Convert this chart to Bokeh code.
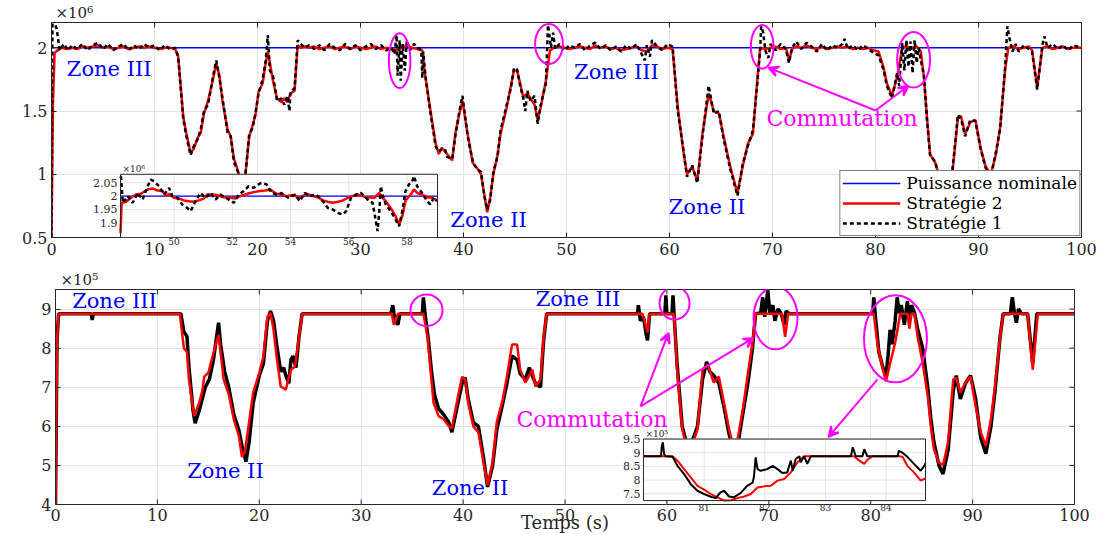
import math
from bokeh.plotting import figure
from bokeh.layouts import column, row
from bokeh.models import (Range1d, Legend, LegendItem, Arrow, VeeHead, Title,
                          FixedTicker, LinearAxis, Grid)
from bokeh.core.properties import value
from bokeh.embed import file_html
from bokeh.resources import INLINE

SERIF = "DejaVu Serif"
AX = "#262626"
GRID = "#e4e4e4"
MAG = "#FF00FF"
BLUE = "#0000FF"
RED = "#FF0000"

# ---------------- DATA: top panel (x 1e6) ----------------
top_strat2 = [(0, 0.5), (0.15, 1.6), (0.3, 1.96), (0.6, 1.98), (1.0, 2.0), (1.5, 1.99), (2.0, 2.0), (2.5, 1.99),
    (3.0, 2.01), (3.5, 2.0), (4.0, 2.01), (4.5, 2.02), (5.0, 2.0), (5.5, 2.01), (6.0, 1.99), (6.5, 2.0),
    (7.0, 2.01), (7.5, 1.99), (8.0, 2.0), (8.5, 2.01), (9.0, 2.0), (9.5, 2.01), (10.0, 2.0), (10.5, 1.99),
    (11.0, 2.0), (11.5, 2.0), (12.0, 1.99), (12.3, 1.93), (12.8, 1.45), (13.1, 1.32), (13.5, 1.17), (13.8, 1.2),
    (14.2, 1.29), (14.5, 1.33), (14.8, 1.48), (15.2, 1.58), (15.7, 1.76), (16.0, 1.88), (16.3, 1.78), (16.6, 1.58),
    (17.1, 1.35), (17.4, 1.3), (17.7, 1.13), (18.2, 1.0), (18.5, 0.93), (18.8, 0.98), (19.2, 1.3), (19.5, 1.38),
    (19.8, 1.47), (20.1, 1.65), (20.5, 1.72), (20.8, 1.88), (21.0, 1.97), (21.2, 1.88), (21.5, 1.74), (21.9, 1.6),
    (22.3, 1.57), (22.6, 1.6), (22.9, 1.57), (23.2, 1.64), (23.6, 1.66), (23.9, 2.02), (24.2, 2.0), (24.6, 2.01),
    (25.0, 2.0), (25.5, 2.01), (26.0, 1.99), (26.5, 2.0), (27.0, 2.01), (27.5, 1.99), (28.0, 2.0), (28.5, 2.01),
    (29.0, 1.99), (29.5, 2.01), (30.0, 2.0), (30.5, 1.99), (31.0, 2.0), (31.5, 2.01), (32.0, 1.99), (32.5, 2.0),
    (33.0, 1.99), (33.5, 1.98), (34.0, 2.0), (34.5, 2.02), (35.0, 2.0), (35.5, 1.99), (36.0, 1.98), (36.3, 1.77),
    (36.8, 1.5), (37.3, 1.24), (37.6, 1.16), (37.9, 1.21), (38.4, 1.16), (38.9, 1.11), (39.2, 1.32), (39.6, 1.48),
    (39.9, 1.58), (40.4, 1.32), (40.9, 1.09), (41.3, 1.05), (41.7, 1.0), (42.0, 0.85), (42.3, 0.70), (42.6, 0.82),
    (42.9, 1.0), (43.3, 1.15), (43.6, 1.32), (44.2, 1.53), (44.6, 1.7), (44.9, 1.82), (45.2, 1.82), (45.5, 1.72),
    (45.8, 1.61), (46.2, 1.64), (46.5, 1.6), (46.9, 1.55), (47.2, 1.43), (47.5, 1.53), (48.0, 1.74), (48.4, 1.98),
    (48.8, 2.0), (49.3, 2.01), (49.8, 2.0), (50.3, 1.99), (50.8, 2.0), (51.3, 2.01), (51.8, 2.0), (52.3, 1.99),
    (52.8, 2.02), (53.3, 2.0), (53.8, 2.01), (54.3, 1.99), (54.8, 2.0), (55.3, 1.98), (55.8, 1.99), (56.3, 2.0),
    (56.8, 2.01), (57.3, 1.98), (57.8, 1.97), (58.3, 2.02), (58.8, 2.01), (59.3, 1.99), (59.8, 2.0), (60.3, 1.99),
    (60.8, 1.53), (61.3, 1.21), (61.7, 1.0), (62.2, 1.06), (62.7, 0.95), (63.2, 1.32), (63.8, 1.64), (64.3, 1.5),
    (64.8, 1.48), (65.2, 1.32), (65.9, 1.06), (66.6, 0.85), (67.1, 1.06), (67.6, 1.24), (68.1, 1.32), (68.5, 1.72),
    (68.8, 2.0), (69.3, 1.99), (69.8, 2.0), (70.3, 2.01), (70.8, 1.99), (71.3, 2.0), (71.6, 1.9), (71.9, 1.99),
    (72.3, 2.01), (72.8, 2.0), (73.3, 2.02), (73.8, 2.0), (74.3, 1.99), (74.8, 2.01), (75.3, 1.99), (75.8, 2.0),
    (76.3, 2.01), (76.8, 2.0), (77.3, 2.01), (77.8, 1.99), (78.3, 2.0), (78.8, 1.99), (79.3, 2.0), (79.8, 1.98),
    (80.3, 1.97), (80.8, 1.84), (81.1, 1.72), (81.6, 1.62), (82.1, 1.77), (82.6, 2.0), (83.0, 2.01), (83.5, 2.0),
    (84.0, 2.01), (84.4, 1.97), (84.7, 1.77), (85.0, 1.45), (85.3, 1.16), (85.8, 1.09), (86.3, 0.95), (86.8, 0.83),
    (87.3, 0.88), (87.7, 1.2), (88.0, 1.45), (88.3, 1.46), (88.7, 1.32), (89.2, 1.41), (89.7, 1.43), (90.2, 1.21),
    (90.7, 1.06), (91.2, 1.0), (91.7, 1.16), (92.1, 1.37), (92.6, 1.84), (92.9, 2.0), (93.4, 2.01), (93.9, 1.99),
    (94.4, 2.0), (94.9, 2.01), (95.2, 1.98), (95.7, 1.69), (96.2, 2.0), (96.7, 2.01), (97.2, 1.99), (97.7, 2.0),
    (98.2, 2.01), (98.7, 1.99), (99.2, 2.0), (100.0, 2.0)]

top_strat1 = [(0, 0.5), (0.1, 2.25), (0.5, 2.15), (0.8, 1.98), (1.2, 2.03), (1.6, 1.98), (2.0, 2.02), (2.5, 1.99),
    (3.0, 2.03), (3.5, 1.98), (4.0, 2.02), (4.5, 2.04), (5.0, 1.99), (5.5, 2.03), (6.0, 1.98), (6.5, 2.01),
    (7.0, 2.03), (7.5, 1.98), (8.0, 2.02), (8.5, 1.99), (9.0, 2.03), (9.5, 2.0), (10.0, 2.02), (10.5, 1.98),
    (11.0, 2.02), (11.5, 1.99), (12.0, 2.0), (12.3, 1.93), (12.8, 1.43), (13.1, 1.3), (13.5, 1.15), (13.8, 1.22),
    (14.2, 1.28), (14.5, 1.36), (14.8, 1.5), (15.2, 1.55), (15.7, 1.78), (16.0, 1.9), (16.3, 1.76), (16.6, 1.6),
    (17.1, 1.33), (17.4, 1.3), (17.7, 1.1), (18.2, 1.0), (18.5, 0.92), (18.8, 0.97), (19.2, 1.32), (19.5, 1.36),
    (19.8, 1.48), (20.1, 1.64), (20.5, 1.75), (20.8, 1.9), (21.0, 2.1), (21.2, 1.82), (21.5, 1.78), (21.9, 1.58),
    (22.3, 1.6), (22.6, 1.55), (22.9, 1.62), (23.1, 1.5), (23.2, 1.65), (23.6, 1.68), (23.9, 2.06), (24.2, 2.03),
    (24.6, 2.0), (25.0, 2.02), (25.5, 1.99), (26.0, 2.02), (26.5, 1.98), (27.0, 2.03), (27.5, 2.0), (28.0, 1.98),
    (28.5, 2.03), (29.0, 1.99), (29.5, 2.02), (30.0, 1.98), (30.5, 2.01), (31.0, 2.03), (31.5, 1.99), (32.0, 2.02),
    (32.5, 1.98), (33.0, 2.0), (33.3, 1.95), (33.5, 2.1), (33.6, 1.78), (33.8, 2.06), (33.9, 1.74), (34.1, 2.03),
    (34.3, 1.82), (34.5, 2.06), (34.8, 1.98), (35.2, 2.03), (35.6, 2.0), (35.9, 1.98), (36.0, 1.76), (36.1, 1.97),
    (36.3, 1.78), (36.8, 1.48), (37.3, 1.22), (37.6, 1.18), (37.9, 1.2), (38.2, 1.2), (38.4, 1.14), (38.9, 1.12),
    (39.2, 1.3), (39.6, 1.5), (39.9, 1.62), (40.4, 1.3), (40.9, 1.1), (41.3, 1.04), (41.7, 1.02), (42.0, 0.84),
    (42.3, 0.72), (42.6, 0.8), (42.9, 1.02), (43.3, 1.14), (43.6, 1.35), (44.2, 1.55), (44.6, 1.68), (44.9, 1.84),
    (45.2, 1.83), (45.5, 1.7), (45.8, 1.6), (46.0, 1.5), (46.2, 1.66), (46.5, 1.58), (46.9, 1.62), (47.2, 1.4),
    (47.5, 1.55), (48.0, 1.72), (48.2, 2.18), (48.5, 2.0), (48.7, 2.12), (48.9, 1.99), (49.3, 2.03), (49.8, 1.98),
    (50.3, 2.02), (50.8, 2.0), (51.3, 2.03), (51.8, 1.98), (52.3, 2.02), (52.8, 2.04), (53.3, 1.99), (53.8, 2.02),
    (54.3, 1.98), (54.8, 2.01), (55.3, 1.97), (55.8, 2.02), (56.3, 1.99), (56.8, 2.03), (57.3, 1.95), (57.6, 1.9),
    (57.8, 2.02), (58.1, 1.93), (58.3, 2.06), (58.8, 2.01), (59.3, 1.98), (59.8, 2.03), (60.3, 2.01), (60.8, 1.5),
    (61.3, 1.22), (61.7, 0.98), (62.2, 1.07), (62.7, 0.93), (63.2, 1.3), (63.8, 1.7), (64.3, 1.48), (64.8, 1.5),
    (65.2, 1.3), (65.9, 1.04), (66.6, 0.83), (67.1, 1.08), (67.6, 1.22), (68.1, 1.35), (68.5, 1.7), (68.8, 1.98),
    (68.9, 2.17), (69.1, 2.12), (69.3, 1.98), (69.6, 1.92), (69.8, 2.03), (70.3, 1.98), (70.8, 2.03), (71.3, 1.99),
    (71.6, 1.88), (71.9, 2.0), (72.3, 2.05), (72.8, 1.99), (73.3, 2.04), (73.8, 2.01), (74.3, 1.97), (74.8, 2.03),
    (75.3, 1.98), (75.8, 2.02), (76.3, 2.0), (76.8, 2.03), (77.0, 2.07), (77.3, 1.99), (77.8, 2.02), (78.3, 1.98),
    (78.8, 2.02), (79.3, 1.99), (79.8, 1.96), (80.3, 1.94), (80.8, 1.82), (81.1, 1.7), (81.6, 1.6), (82.1, 1.8),
    (82.3, 1.7), (82.6, 2.04), (82.8, 1.82), (83.0, 2.06), (83.2, 1.85), (83.4, 2.05), (83.6, 1.8), (83.8, 2.06),
    (84.0, 1.88), (84.2, 2.0), (84.4, 1.9), (84.7, 1.78), (85.0, 1.43), (85.3, 1.15), (85.8, 1.1), (86.3, 0.93),
    (86.8, 0.82), (87.3, 0.9), (87.7, 1.22), (88.0, 1.47), (88.3, 1.44), (88.7, 1.3), (89.2, 1.43), (89.7, 1.42),
    (90.2, 1.2), (90.7, 1.05), (91.2, 0.98), (91.7, 1.18), (92.1, 1.36), (92.6, 1.86), (92.8, 2.17), (93.0, 2.08),
    (93.3, 1.97), (93.6, 2.03), (93.9, 1.97), (94.4, 2.02), (94.9, 1.99), (95.2, 1.97), (95.7, 1.67), (96.2, 2.02),
    (96.4, 2.09), (96.7, 2.0), (97.2, 2.03), (97.7, 1.99), (98.2, 2.02), (98.7, 1.98), (99.2, 2.02), (100.0, 2.0)]

nominal_t = [0, 100]
nominal_power = [2.0, 2.0]

top_inset_strat2 = [(48.16, 1.862), (48.2, 1.975), (48.35, 1.979), (48.52, 1.994), (48.69, 2.006), (48.86, 2.009),
    (49.09, 2.025), (49.26, 2.029), (49.43, 2.021), (49.6, 2.019), (49.72, 2.0), (49.83, 2.009), (50.0, 1.994),
    (50.17, 1.991), (50.34, 1.984), (50.51, 1.981), (50.68, 1.979), (50.85, 1.984), (51.02, 1.991), (51.14, 2.006),
    (51.31, 2.006), (51.48, 2.004), (51.7, 1.996), (51.93, 1.994), (52.1, 1.991), (52.27, 2.0), (52.44, 2.006),
    (52.61, 2.012), (52.78, 2.016), (52.95, 2.019), (53.13, 2.021), (53.3, 2.025), (53.41, 2.016), (53.52, 2.009),
    (53.69, 2.006), (53.86, 2.0), (54.09, 2.004), (54.32, 1.994), (54.55, 2.009), (54.77, 2.0), (54.94, 1.996),
    (55.11, 1.984), (55.28, 1.979), (55.45, 1.975), (55.63, 1.979), (55.8, 1.984), (55.97, 1.994), (56.14, 2.0),
    (56.31, 2.006), (56.48, 2.0), (56.59, 1.994), (56.7, 1.996), (56.88, 1.994), (57.05, 2.012), (57.16, 1.994),
    (57.27, 1.981), (57.44, 1.956), (57.61, 1.925), (57.73, 1.894), (57.84, 1.925), (57.95, 1.984), (58.13, 2.006),
    (58.24, 2.025), (58.35, 2.012), (58.52, 2.006), (58.69, 1.996), (58.86, 1.994), (59.03, 1.984)]

top_inset_strat1 = [(48.16, 2.075), (48.18, 2.069), (48.24, 1.975), (48.41, 2.0), (48.58, 1.975), (48.75, 2.012),
    (48.92, 1.987), (49.09, 2.037), (49.2, 2.062), (49.31, 2.056), (49.49, 2.037), (49.66, 2.006), (49.83, 2.031),
    (49.94, 2.0), (50.11, 1.994), (50.28, 1.969), (50.45, 1.956), (50.57, 1.944), (50.74, 1.981), (50.91, 2.012),
    (51.08, 1.994), (51.25, 2.012), (51.42, 1.987), (51.59, 2.006), (51.82, 1.991), (52.05, 1.975), (52.22, 2.006),
    (52.39, 2.019), (52.56, 2.037), (52.73, 2.031), (52.9, 2.044), (53.01, 2.05), (53.18, 2.044), (53.35, 2.012),
    (53.52, 2.006), (53.69, 2.012), (53.92, 1.994), (54.15, 2.006), (54.32, 1.981), (54.49, 2.012), (54.66, 2.0),
    (54.89, 2.006), (55.11, 1.981), (55.28, 1.956), (55.45, 1.95), (55.63, 1.937), (55.8, 1.931), (55.91, 1.944),
    (56.08, 1.994), (56.25, 2.006), (56.42, 2.012), (56.59, 1.994), (56.7, 1.981), (56.82, 1.975), (56.99, 1.869),
    (57.05, 1.944), (57.1, 2.037), (57.16, 2.006), (57.27, 1.969), (57.44, 1.944), (57.61, 1.912), (57.73, 1.887),
    (57.84, 1.944), (57.95, 2.019), (58.07, 2.044), (58.18, 2.056), (58.24, 2.075), (58.35, 2.037), (58.52, 2.012),
    (58.69, 1.981), (58.8, 1.969), (58.92, 1.994), (59.03, 1.981)]

# ---------------- DATA: bottom panel (x 1e5) ----------------
bot_strat2 = [(0, 4.0), (0.15, 8.2), (0.3, 8.88), (12.2, 8.88), (12.6, 8.0), (12.9, 7.9), (13.1, 7.2), (13.6, 6.26),
    (14.1, 6.6), (14.4, 6.9), (14.6, 7.27), (15.0, 7.37), (15.5, 7.88), (16.0, 8.34), (16.5, 7.2), (17.0, 6.82),
    (17.5, 6.18), (18.0, 5.75), (18.3, 5.22), (18.6, 5.37), (18.9, 5.93), (19.4, 6.87), (20.0, 7.37), (20.4, 7.78),
    (20.8, 8.8), (21.1, 8.9), (21.4, 8.47), (21.7, 7.78), (22.1, 7.02), (22.6, 6.94), (23.1, 7.45), (23.5, 7.53),
    (23.9, 8.29), (24.2, 8.88), (33.0, 8.88), (33.2, 8.6), (33.5, 8.8), (33.6, 8.88), (36.1, 8.88), (36.5, 8.3),
    (36.8, 7.45), (37.1, 6.6), (37.6, 6.26), (38.1, 6.18), (38.6, 6.0), (38.9, 5.95), (39.5, 6.77), (39.9, 7.27),
    (40.2, 7.2), (40.5, 6.6), (41.0, 6.0), (41.5, 5.85), (42.0, 5.08), (42.4, 4.5), (42.9, 5.08), (43.3, 6.1),
    (43.9, 6.69), (44.3, 7.27), (44.8, 8.09), (45.3, 8.09), (45.6, 7.45), (46.1, 7.12), (46.5, 7.3), (46.8, 7.45),
    (47.1, 7.02), (47.6, 7.2), (47.9, 8.29), (48.2, 8.88), (57.6, 8.88), (57.9, 8.6), (58.1, 8.4), (58.3, 8.88),
    (60.7, 8.88), (61.0, 7.45), (61.5, 5.93), (62.0, 5.4), (62.6, 5.6), (63.0, 5.93), (63.5, 7.45), (64.0, 7.58),
    (64.6, 7.12), (65.1, 7.27), (65.6, 6.6), (66.1, 5.93), (66.6, 5.4), (67.0, 5.75), (67.5, 6.51), (68.0, 7.45),
    (68.4, 8.14), (68.7, 8.88), (71.3, 8.88), (71.6, 8.29), (71.9, 8.88), (80.3, 8.88), (80.7, 8.04), (81.2, 7.45),
    (81.5, 7.15), (81.9, 7.6), (82.4, 8.14), (82.9, 8.88), (83.6, 8.88), (83.8, 8.5), (84.0, 8.88), (84.3, 8.88),
    (84.6, 8.29), (85.1, 7.63), (85.6, 6.77), (85.9, 6.0), (86.2, 5.42), (86.7, 5.08), (87.1, 5.0), (87.6, 5.6),
    (88.1, 7.2), (88.4, 7.24), (88.8, 6.87), (89.3, 7.12), (89.8, 7.27), (90.3, 6.51), (90.8, 5.85), (91.3, 5.5),
    (91.8, 6.18), (92.2, 7.02), (92.7, 8.29), (93.0, 8.88), (95.4, 8.88), (95.9, 7.45), (96.4, 8.88), (100.0, 8.88)]

bot_strat1 = [(0, 4.0), (0.15, 8.2), (0.3, 8.88), (3.5, 8.88), (3.6, 8.72), (3.7, 8.88), (12.3, 8.88), (12.6, 8.42),
    (12.9, 8.3), (13.1, 7.5), (13.5, 6.4), (13.7, 6.08), (14.1, 6.4), (14.4, 6.7), (14.7, 7.0), (15.1, 7.2),
    (15.5, 7.7), (16.0, 8.65), (16.2, 8.1), (16.6, 7.4), (17.0, 7.0), (17.5, 6.3), (18.0, 5.9), (18.3, 5.5),
    (18.7, 5.1), (19.0, 5.6), (19.4, 6.6), (20.0, 7.3), (20.4, 7.6), (20.8, 8.7), (21.1, 8.95), (21.4, 8.7),
    (21.7, 8.1), (22.1, 7.4), (22.4, 7.5), (22.6, 7.3), (22.9, 7.1), (23.1, 7.7), (23.3, 7.8), (23.6, 7.5),
    (23.9, 8.3), (24.2, 8.88), (32.9, 8.88), (33.1, 9.1), (33.3, 8.7), (33.6, 8.6), (33.8, 8.88), (36.0, 8.88),
    (36.1, 9.3), (36.3, 8.8), (36.6, 8.2), (36.9, 7.4), (37.2, 6.8), (37.6, 6.45), (38.1, 6.3), (38.6, 6.1),
    (38.9, 5.85), (39.5, 6.6), (39.9, 7.1), (40.2, 7.25), (40.5, 6.7), (41.0, 6.1), (41.5, 6.0), (42.0, 5.2),
    (42.4, 4.45), (42.9, 5.0), (43.3, 5.9), (43.9, 6.6), (44.3, 7.1), (44.8, 7.8), (45.3, 7.7), (45.6, 7.35),
    (46.1, 7.2), (46.5, 7.5), (46.8, 7.3), (47.1, 7.1), (47.6, 7.0), (47.9, 8.2), (48.2, 8.88), (57.1, 8.88),
    (57.2, 9.1), (57.4, 8.7), (57.7, 8.8), (58.0, 8.3), (58.1, 8.2), (58.3, 8.88), (59.8, 8.88), (59.9, 9.35),
    (60.0, 8.88), (60.5, 8.88), (60.6, 9.35), (60.7, 8.88), (61.0, 7.6), (61.5, 6.0), (62.0, 5.5), (62.6, 5.7),
    (63.0, 6.0), (63.5, 7.2), (63.9, 7.65), (64.2, 7.4), (64.6, 7.3), (65.1, 7.1), (65.6, 6.5), (66.1, 5.8),
    (66.6, 5.3), (67.0, 5.6), (67.5, 6.4), (68.0, 7.2), (68.4, 8.0), (68.7, 8.88), (69.2, 8.9), (69.4, 9.3),
    (69.6, 8.8), (69.9, 9.48), (70.1, 8.9), (70.4, 9.1), (70.6, 8.7), (70.9, 9.0), (71.2, 8.9), (71.5, 8.6),
    (71.7, 8.95), (72.0, 8.88), (80.2, 8.88), (80.3, 9.3), (80.5, 8.7), (80.8, 7.9), (81.2, 7.5), (81.5, 7.3),
    (81.7, 7.8), (81.9, 8.47), (82.1, 8.1), (82.4, 8.7), (82.6, 9.3), (82.8, 8.9), (83.0, 9.1), (83.3, 8.6),
    (83.6, 9.2), (83.8, 8.7), (84.0, 9.1), (84.3, 8.9), (84.6, 8.5), (85.1, 8.0), (85.6, 7.0), (85.9, 6.2),
    (86.2, 5.6), (86.7, 5.0), (87.1, 4.78), (87.6, 5.4), (88.1, 6.9), (88.4, 7.3), (88.8, 6.7), (89.3, 7.1),
    (89.8, 7.3), (90.3, 6.7), (90.8, 5.7), (91.3, 5.3), (91.8, 6.0), (92.2, 6.9), (92.7, 8.3), (93.0, 8.88),
    (93.7, 8.88), (93.9, 9.3), (94.1, 8.9), (94.3, 8.65), (94.5, 9.0), (94.8, 8.88), (95.4, 8.88), (95.9, 7.6),
    (96.3, 8.88), (100.0, 8.88)]

bot_inset_strat1 = [(80.0, 8.87), (80.29, 8.87), (80.3, 9.2), (80.32, 9.38), (80.34, 8.95), (80.37, 8.87),
    (80.48, 8.85), (80.56, 8.52), (80.67, 8.22), (80.78, 7.85), (80.89, 7.61), (81.0, 7.49), (81.11, 7.39),
    (81.19, 7.34), (81.27, 7.55), (81.33, 7.61), (81.41, 7.40), (81.49, 7.37), (81.60, 7.52), (81.71, 7.79),
    (81.80, 7.91), (81.82, 8.10), (81.85, 8.83), (81.88, 8.40), (81.93, 8.34), (82.04, 8.40), (82.13, 8.52),
    (82.21, 8.40), (82.29, 8.26), (82.37, 8.28), (82.43, 8.71), (82.46, 8.34), (82.51, 8.77), (82.57, 8.87),
    (82.59, 8.65), (82.65, 8.87), (82.70, 8.59), (82.76, 8.87), (83.42, 8.87), (83.45, 9.2), (83.50, 8.87),
    (83.61, 8.87), (83.64, 9.13), (83.69, 8.87), (84.19, 8.87), (84.21, 9.07), (84.27, 9.0), (84.35, 8.85),
    (84.46, 8.59), (84.57, 8.34), (84.63, 8.52), (84.65, 8.62)]

bot_inset_strat2 = [(80.0, 8.87), (80.48, 8.87), (80.56, 8.71), (80.67, 8.40), (80.78, 8.10), (80.89, 7.79),
    (81.0, 7.65), (81.11, 7.49), (81.22, 7.37), (81.33, 7.25), (81.44, 7.26), (81.55, 7.34), (81.66, 7.40),
    (81.77, 7.49), (81.88, 7.73), (81.99, 7.77), (82.10, 7.79), (82.21, 7.98), (82.32, 8.04), (82.43, 8.28),
    (82.54, 8.65), (82.65, 8.87), (83.47, 8.87), (83.56, 8.71), (83.64, 8.59), (83.69, 8.74), (83.78, 8.87),
    (84.21, 8.87), (84.27, 8.85), (84.35, 8.52), (84.46, 8.28), (84.57, 7.98), (84.65, 8.06)]

# ticks
main_x_ticks = [0, 10, 20, 30, 40, 50, 60, 70, 80, 90, 100]
top_y_ticks = [0.5, 1.0, 1.5, 2.0]
top_y_labels = ["0.5", "1", "1.5", "2"]
bot_y_ticks = [4, 5, 6, 7, 8, 9]
top_inset_x_ticks = [50, 52, 54, 56, 58]
top_inset_y_ticks = [1.9, 1.95, 2.0, 2.05]
top_inset_y_labels = ["1.9", "1.95", "2", "2.05"]
bot_inset_x_ticks = [81, 82, 83, 84]
bot_inset_y_ticks = [7.5, 8.0, 8.5, 9.0, 9.5]
bot_inset_y_labels = ["7.5", "8", "8.5", "9", "9.5"]

# annotations (positions)
top_zone_x = [5.6, 54.85, 42.43, 63.64]
top_zone_y = [1.835, 1.81, 0.638, 0.74]
top_zone_text = ["Zone III", "Zone III", "Zone II", "Zone II"]
top_ell_x = [33.8, 48.3, 69.0, 83.7]
top_ell_y = [1.898, 2.03, 2.008, 1.905]
top_ell_w = [2.1, 2.7, 2.2, 3.2]
top_ell_h = [0.433, 0.315, 0.346, 0.44]
top_arrows = [((80.0, 1.504), (69.6, 1.843)), ((80.0, 1.504), (83.2, 1.70))]
top_comm = (76.75, 1.441)

bot_zone_x = [5.79, 16.68, 51.28, 40.68]
bot_zone_y = [9.2, 4.86, 9.25, 4.41]
bot_zone_text = ["Zone III", "Zone II", "Zone III", "Zone II"]
bot_ell_x = [36.41, 60.75, 70.66, 82.43]
bot_ell_y = [8.97, 9.15, 8.77, 8.24]
bot_ell_w = [3.14, 2.94, 4.32, 6.18]
bot_ell_h = [0.81, 0.84, 1.6, 2.23]
bot_arrows = [((57.41, 6.51), (60.16, 8.39)), ((57.41, 6.51), (68.5, 8.26)), ((80.67, 7.2), (75.86, 5.73))]
bot_comm = (52.65, 6.18)

# inset placement: source ranges and target ranges (in main data units)
top_inset_src = ((48.16, 59.05), (1.845, 2.082))
top_inset_tgt = ((6.7, 37.48), (0.5, 1.0))
bot_inset_src = ((80.0, 84.65), (7.25, 9.5))
bot_inset_tgt = ((57.7, 85.38), (4.1, 5.675))


def unzip(pairs):
    return [a for a, _ in pairs], [b for _, b in pairs]


def style(p, yt, ylabels=None):
    p.yaxis.ticker = FixedTicker(ticks=yt)
    if ylabels:
        p.yaxis.major_label_overrides = {float(v): l for v, l in zip(yt, ylabels)}
    ax = p.yaxis[0]
    ax.axis_line_color = AX
    ax.major_tick_line_color = AX
    ax.major_tick_in = 5
    ax.major_tick_out = 0
    ax.minor_tick_line_color = None
    ax.minor_tick_in = 0
    ax.minor_tick_out = 0
    ax.major_label_text_font = SERIF
    ax.major_label_text_font_size = "16px"
    ax.major_label_text_color = AX
    ax.major_label_standoff = 4
    p.xgrid.visible = False
    p.add_layout(Grid(dimension=0, ticker=FixedTicker(ticks=main_x_ticks),
                      grid_line_color=GRID))
    p.ygrid.grid_line_color = GRID
    p.outline_line_color = AX
    p.outline_line_alpha = 1.0
    p.background_fill_color = "white"
    p.border_fill_color = "white"
    # inward tick marks on the bottom, top and right edges of the box
    n = len(main_x_ticks)
    p.scatter(x=main_x_ticks, y=[p.y_range.start] * n, marker="dash", angle=math.pi / 2,
              size=10, line_color=AX, line_width=1)
    p.scatter(x=main_x_ticks, y=[p.y_range.end] * n, marker="dash", angle=math.pi / 2,
              size=10, line_color=AX, line_width=1)
    p.scatter(x=[p.x_range.end] * len(yt), y=yt, marker="dash",
              size=10, line_color=AX, line_width=1)


def add_bottom_axes(p, name, src, tgt, inset_ticks, inset_standoff, main_standoff,
                    xlabel=None, xlabel_standoff=0):
    (xs0, xs1), _ = src
    (xt0, xt1), _ = tgt
    slope = (xs1 - xs0) / (xt1 - xt0)
    r0 = xs0 - (xt0 - p.x_range.start) * slope
    r1 = xs0 + (p.x_range.end - xt0) * slope
    p.extra_x_ranges[name] = Range1d(r0, r1)
    ia = LinearAxis(x_range_name=name, ticker=FixedTicker(ticks=inset_ticks),
                    axis_line_color=None, major_tick_line_color=None, minor_tick_line_color=None,
                    major_tick_in=0, major_tick_out=0, minor_tick_in=0, minor_tick_out=0,
                    major_label_text_font=SERIF, major_label_text_font_size="9px",
                    major_label_text_color=AX, major_label_standoff=inset_standoff)
    p.add_layout(ia, "below")
    ma = LinearAxis(ticker=FixedTicker(ticks=main_x_ticks),
                    axis_line_color=None, major_tick_line_color=None, minor_tick_line_color=None,
                    major_tick_in=0, major_tick_out=0, minor_tick_in=0, minor_tick_out=0,
                    major_label_text_font=SERIF, major_label_text_font_size="16px",
                    major_label_text_color=AX, major_label_standoff=main_standoff)
    if xlabel:
        ma.axis_label = xlabel
        ma.axis_label_text_font = SERIF
        ma.axis_label_text_font_size = "18px"
        ma.axis_label_text_font_style = "normal"
        ma.axis_label_text_color = AX
        ma.axis_label_standoff = xlabel_standoff
    p.add_layout(ma, "below")


def inset(p, src, tgt, xticks, yticks, ylabels, mult):
    xs, ys = src
    xt, yt = tgt
    sub = p.subplot(x_source=Range1d(*xs), y_source=Range1d(*ys),
                    x_target=Range1d(*xt), y_target=Range1d(*yt))
    sub.quad(left=[xs[0]], right=[xs[1]], bottom=[ys[0]], top=[ys[1]],
             fill_color="white", line_color=None)
    sub.segment(x0=xticks, x1=xticks, y0=[ys[0]] * len(xticks), y1=[ys[1]] * len(xticks),
                line_color=GRID, line_width=1)
    sub.segment(x0=[xs[0]] * len(yticks), x1=[xs[1]] * len(yticks), y0=yticks, y1=yticks,
                line_color=GRID, line_width=1)
    sub.text(x=[xs[0]] * len(yticks), y=yticks, text=ylabels, text_align="right",
             text_baseline="middle", x_offset=-3, text_font=value(SERIF),
             text_font_size=value("11px"), text_color=AX)
    sub.text(x=[xs[0]], y=[ys[1]], text=[mult], text_align="left", text_baseline="bottom",
             x_offset=2, text_font=value(SERIF), text_font_size=value("9px"), text_color=AX)
    return sub


def finish_inset(sub, src):
    xs, ys = src
    sub.quad(left=[xs[0]], right=[xs[1]], bottom=[ys[0]], top=[ys[1]],
             fill_color=None, line_color=AX, line_width=1)


def title(text, offset, standoff):
    return Title(text=text, align="left", offset=offset, standoff=standoff,
                 text_font=SERIF, text_font_size="15px", text_font_style="normal",
                 text_color=AX)


# ================= TOP FIGURE =================
p1 = figure(width=1106, height=262, x_range=Range1d(0, 100), y_range=Range1d(0.5, 2.2),
            output_backend="svg", toolbar_location=None, x_axis_location=None,
            min_border_left=51, min_border_right=25, min_border_top=22, min_border_bottom=25)
p1.title = title("×10⁶", 4, 2)
style(p1, top_y_ticks, top_y_labels)
add_bottom_axes(p1, "inset_top", top_inset_src, top_inset_tgt, top_inset_x_ticks, 0, -5)

t2, v2 = unzip(top_strat2)
t1, v1 = unzip(top_strat1)
r_nom = p1.line(nominal_t, nominal_power, line_color=BLUE, line_width=1.4)
r_s2 = p1.line(t2, v2, line_color=RED, line_width=2.5)
r_s1 = p1.line(t1, v1, line_color="black", line_width=2.5, line_dash="4 3")

sub = inset(p1, top_inset_src, top_inset_tgt, top_inset_x_ticks, top_inset_y_ticks,
            top_inset_y_labels, "×10⁶")
sub.line(list(top_inset_src[0]), nominal_power, line_color=BLUE, line_width=1.4)
it2, iv2 = unzip(top_inset_strat2)
it1, iv1 = unzip(top_inset_strat1)
sub.line(it2, iv2, line_color=RED, line_width=2.5)
sub.line(it1, iv1, line_color="black", line_width=2.5, line_dash="4 3")
finish_inset(sub, top_inset_src)

p1.ellipse(x=top_ell_x, y=top_ell_y, width=top_ell_w, height=top_ell_h,
           fill_color=None, line_color=MAG, line_width=2)
p1.text(x=top_zone_x, y=top_zone_y, text=top_zone_text, text_color=BLUE,
        text_font=value(SERIF), text_font_size=value("21px"),
        text_align="center", text_baseline="middle")
p1.text(x=[top_comm[0]], y=[top_comm[1]], text=["Commutation"], text_color=MAG,
        text_font=value(SERIF), text_font_size=value("22px"),
        text_align="center", text_baseline="middle")
for (a, b) in top_arrows:
    p1.add_layout(Arrow(x_start=a[0], y_start=a[1], x_end=b[0], y_end=b[1],
                        line_color=MAG, line_width=2,
                        end=VeeHead(size=10, line_color=MAG, line_width=2, fill_color=MAG)))

legend = Legend(items=[LegendItem(label="Puissance nominale", renderers=[r_nom]),
                       LegendItem(label="Stratégie 2", renderers=[r_s2]),
                       LegendItem(label="Stratégie 1", renderers=[r_s1])],
                location="bottom_right", margin=1, padding=2, spacing=0,
                label_text_font=SERIF, label_text_font_size="17px", label_text_color="black",
                label_height=12, glyph_height=12, glyph_width=58, label_standoff=6,
                border_line_color="black", border_line_width=1, background_fill_alpha=1.0)
p1.add_layout(legend)

# ================= BOTTOM FIGURE =================
p2 = figure(width=1106, height=273, x_range=Range1d(0, 100), y_range=Range1d(4, 9.5),
            output_backend="svg", toolbar_location=None, x_axis_location=None,
            min_border_left=55, min_border_right=32, min_border_top=27, min_border_bottom=29)
p2.title = title("×10⁵", 5, 2)
style(p2, bot_y_ticks)
add_bottom_axes(p2, "inset_bot", bot_inset_src, bot_inset_tgt, bot_inset_x_ticks, -1, -5,
                xlabel="Temps (s)", xlabel_standoff=-12)

b1t, b1v = unzip(bot_strat1)
b2t, b2v = unzip(bot_strat2)
p2.line(b1t, b1v, line_color="black", line_width=3.5)
p2.line(b2t, b2v, line_color=RED, line_width=2.5)

sub2 = inset(p2, bot_inset_src, bot_inset_tgt, bot_inset_x_ticks, bot_inset_y_ticks,
             bot_inset_y_labels, "×10⁵")
bi1t, bi1v = unzip(bot_inset_strat1)
bi2t, bi2v = unzip(bot_inset_strat2)
sub2.line(bi2t, bi2v, line_color=RED, line_width=2)
sub2.line(bi1t, bi1v, line_color="black", line_width=2)
finish_inset(sub2, bot_inset_src)

p2.ellipse(x=bot_ell_x, y=bot_ell_y, width=bot_ell_w, height=bot_ell_h,
           fill_color=None, line_color=MAG, line_width=2)
p2.text(x=bot_zone_x, y=bot_zone_y, text=bot_zone_text, text_color=BLUE,
        text_font=value(SERIF), text_font_size=value("21px"),
        text_align="center", text_baseline="middle")
p2.text(x=[bot_comm[0]], y=[bot_comm[1]], text=["Commutation"], text_color=MAG,
        text_font=value(SERIF), text_font_size=value("22px"),
        text_align="center", text_baseline="middle")
for (a, b) in bot_arrows:
    p2.add_layout(Arrow(x_start=a[0], y_start=a[1], x_end=b[0], y_end=b[1],
                        line_color=MAG, line_width=2,
                        end=VeeHead(size=10, line_color=MAG, line_width=2, fill_color=MAG)))

layout = column(row(p1), row(p2))
open("out.html", "w").write(file_html(layout, INLINE))
